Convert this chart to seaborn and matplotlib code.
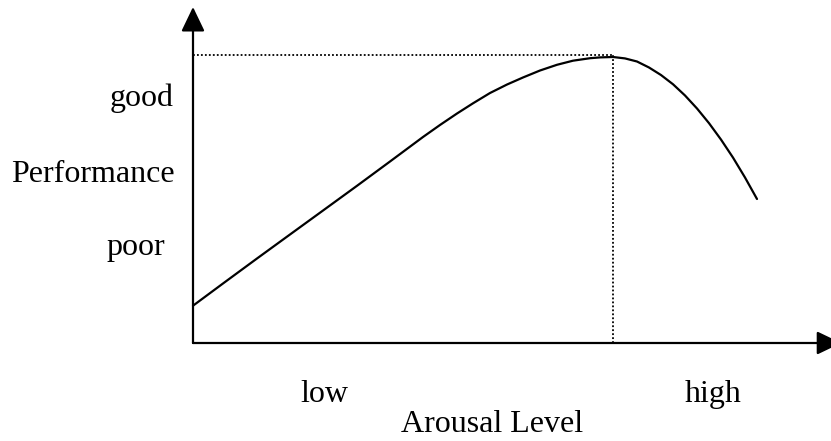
import matplotlib
matplotlib.use("Agg")
import numpy as np
import pandas as pd
import matplotlib.pyplot as plt
import seaborn as sns

# Yerkes-Dodson curve (arousal and performance on a 0-100 scale)
arousal = [0.00, 4.70, 10.03, 15.20, 20.38, 25.71, 30.88, 36.05, 38.71, 41.38,
           43.89, 46.55, 49.22, 51.72, 54.39, 57.05, 59.56, 62.23, 63.79, 65.83,
           67.71, 69.59, 71.47, 73.35, 75.24, 77.12, 79.00, 80.88, 82.76, 84.64,
           86.52, 88.40]
performance = [11.10, 17.71, 25.15, 32.29, 39.43, 46.79, 54.02, 61.31, 64.88, 68.30,
               71.34, 74.40, 76.93, 79.02, 81.10, 82.80, 84.02, 84.76, 85.00, 85.12,
               84.70, 83.78, 82.00, 79.76, 77.00, 73.66, 69.79, 65.42, 60.54, 55.18,
               49.26, 42.86]

peak_arousal = 65.83
peak_performance = 85.7

x_tick_pos = [20.6, 81.6]
x_tick_labels = ["low", "high"]
y_tick_pos = [70.5, 26.2]
y_tick_labels = ["good", "poor"]
x_title = "Arousal Level"
y_title = "Performance"

df = pd.DataFrame({"arousal": arousal, "performance": performance})

sns.set_theme(style="white")
plt.rcParams["font.family"] = ["Liberation Serif", "DejaVu Serif"]
plt.rcParams["text.color"] = "black"

W, H, DPI = 831, 441, 100
fig = plt.figure(figsize=(W / DPI, H / DPI), dpi=DPI)
# axes box: origin at the corner of the two arrows, top at the y arrow tip
x0, y0, x1, y1 = 193, 343, 831, 7
ax = fig.add_axes([x0 / W, (H - y0) / H, (x1 - x0) / W, (y0 - y1) / H])
ax.set_xlim(0, 100)
ax.set_ylim(0, 100)
ax.axis("off")

sns.lineplot(data=df, x="arousal", y="performance", ax=ax, color="black",
             linewidth=1.6, sort=False, clip_on=False)

# dotted guide lines to the peak
ax.plot([0, peak_arousal], [peak_performance, peak_performance], color="black",
        linewidth=1.3, linestyle=(0, (1, 1.2)))
ax.plot([peak_arousal, peak_arousal], [0, peak_performance], color="black",
        linewidth=1.3, linestyle=(0, (1, 1.2)))

# arrow axes
arrow = dict(arrowstyle="-|>,head_length=1.0,head_width=0.48", mutation_scale=15,
             color="black", lw=1.6, shrinkA=0, shrinkB=0)
ax.annotate("", xy=(0, 100), xytext=(0, 0), arrowprops=arrow, annotation_clip=False)
ax.annotate("", xy=(101.6, 0), xytext=(0, 0), arrowprops=arrow, annotation_clip=False)

fs = 23
for pos, lab in zip(x_tick_pos, x_tick_labels):
    ax.text(pos, -17.6, lab, ha="center", va="baseline", fontsize=fs,
            color="black", clip_on=False)
for pos, lab in zip(y_tick_pos, y_tick_labels):
    ax.text(-3.1 if lab == "good" else -4.4, pos, lab, ha="right", va="baseline",
            fontsize=fs, color="black", clip_on=False)
ax.text(-2.8, 48.0, y_title, ha="right", va="baseline", fontsize=fs,
        color="black", clip_on=False)
ax.text(46.9, -26.6, x_title, ha="center", va="baseline", fontsize=fs,
        color="black", clip_on=False)

fig.savefig("out.png", dpi=DPI, facecolor="white")
